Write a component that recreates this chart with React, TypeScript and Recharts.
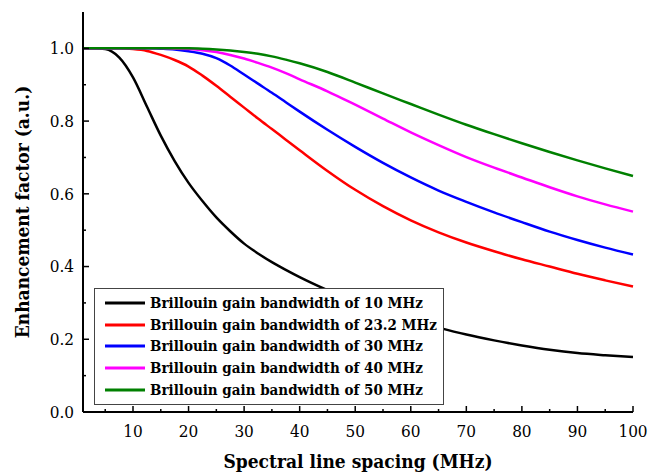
import { LineChart, Line, XAxis, YAxis, Legend } from 'recharts';

// spectral line spacing (MHz)
const spacing = [1, 3, 5, 7.5, 10, 12.5, 15, 17.5, 20, 22.5, 25, 27.5, 30, 32.5, 35, 37.5, 40, 45, 50, 55, 60, 65, 70, 75, 80, 85, 90, 95, 100];

// enhancement factor for each Brillouin gain bandwidth
const bw10 = [1, 1, 0.998, 0.975, 0.92, 0.84, 0.76, 0.69, 0.63, 0.58, 0.535, 0.497, 0.463, 0.436, 0.412, 0.391, 0.371, 0.335, 0.302, 0.275, 0.253, 0.232, 0.213, 0.197, 0.183, 0.171, 0.162, 0.156, 0.151];
const bw23 = [1, 1, 1, 1, 0.998, 0.993, 0.982, 0.968, 0.95, 0.925, 0.897, 0.867, 0.837, 0.807, 0.778, 0.749, 0.72, 0.663, 0.611, 0.566, 0.527, 0.494, 0.466, 0.442, 0.42, 0.4, 0.38, 0.362, 0.345];
const bw30 = [1, 1, 1, 1, 1, 1, 0.999, 0.997, 0.992, 0.985, 0.973, 0.953, 0.928, 0.903, 0.878, 0.852, 0.826, 0.776, 0.729, 0.685, 0.645, 0.609, 0.578, 0.549, 0.522, 0.496, 0.473, 0.452, 0.433];
const bw40 = [1, 1, 1, 1, 1, 1, 1, 0.999, 0.998, 0.995, 0.99, 0.982, 0.972, 0.96, 0.947, 0.932, 0.915, 0.882, 0.845, 0.807, 0.769, 0.734, 0.701, 0.672, 0.645, 0.618, 0.593, 0.571, 0.551];
const bw50 = [1, 1, 1, 1, 1, 1, 1, 1, 1, 0.999, 0.997, 0.994, 0.99, 0.985, 0.978, 0.969, 0.959, 0.935, 0.906, 0.876, 0.847, 0.818, 0.79, 0.764, 0.739, 0.715, 0.692, 0.67, 0.649];

const xTicks = [5, 10, 15, 20, 25, 30, 35, 40, 45, 50, 55, 60, 65, 70, 75, 80, 85, 90, 95, 100];
const yTicks = [0, 0.1, 0.2, 0.3, 0.4, 0.5, 0.6, 0.7, 0.8, 0.9, 1.0];

const series = [
    { key: 'bw10', name: 'Brillouin gain bandwidth of 10 MHz', color: '#000000' },
    { key: 'bw23', name: 'Brillouin gain bandwidth of 23.2 MHz', color: '#ff0000' },
    { key: 'bw30', name: 'Brillouin gain bandwidth of 30 MHz', color: '#0000ff' },
    { key: 'bw40', name: 'Brillouin gain bandwidth of 40 MHz', color: '#ff00ff' },
    { key: 'bw50', name: 'Brillouin gain bandwidth of 50 MHz', color: '#008000' },
];

const data = spacing.map((x, i) => ({
    x,
    bw10: bw10[i],
    bw23: bw23[i],
    bw30: bw30[i],
    bw40: bw40[i],
    bw50: bw50[i],
}));

const FONT = '"DejaVu Serif Condensed", "DejaVu Serif", serif';

const XTick = (props: any) => {
    const { x, y, payload } = props;
    const major = payload.value % 10 === 0;
    return (
        <g>
            <line x1={x} x2={x} y1={y} y2={y - (major ? 6 : 3)} stroke="#000" strokeWidth={1.5} />
            {major && (
                <text x={x} y={y + 25} textAnchor="middle" fontFamily={FONT} fontSize={17} fill="#000">
                    {payload.value}
                </text>
            )}
        </g>
    );
};

const YTick = (props: any) => {
    const { x, y, payload } = props;
    const major = Math.round(payload.value * 10) % 2 === 0;
    return (
        <g>
            <line x1={x} x2={x + (major ? 6 : 3)} y1={y} y2={y} stroke="#000" strokeWidth={1.5} />
            {major && (
                <text x={x - 9} y={y} dy="0.35em" textAnchor="end" fontFamily={FONT} fontSize={17} fill="#000">
                    {payload.value.toFixed(1)}
                </text>
            )}
        </g>
    );
};

const LegendBox = ({ payload }: any) => (
    <div
        style={{
            border: '1px solid #444',
            background: '#fff',
            padding: '3px 4px 3px 10px',
            width: 334,
            fontFamily: FONT,
            fontWeight: 'bold',
            fontSize: 15,
        }}
    >
        {(payload || []).map((entry: any) => (
            <div key={entry.value} style={{ display: 'flex', alignItems: 'center', height: 21.8 }}>
                <svg width={40} height={4} style={{ marginRight: 5, flexShrink: 0 }}>
                    <line x1={0} x2={40} y1={2} y2={2} stroke={entry.color} strokeWidth={3} />
                </svg>
                <span style={{ color: '#000', whiteSpace: 'nowrap' }}>{entry.value}</span>
            </div>
        ))}
    </div>
);

export default function App() {
    return (
        <div style={{ position: 'absolute', left: 0, top: 0, width: 648, height: 473, background: '#fff' }}>
            <LineChart width={648} height={473} data={data} margin={{ top: 12, right: 15, left: 0, bottom: 0 }}>
                <XAxis
                    dataKey="x"
                    type="number"
                    domain={[1, 100]}
                    ticks={xTicks}
                    interval={0}
                    tickSize={0}
                    tickMargin={0}
                    tick={<XTick />}
                    height={61}
                    axisLine={{ stroke: '#000', strokeWidth: 2 }}
                    tickLine={false}
                    label={({ viewBox }: any) => (
                        <text
                            x={viewBox.x + viewBox.width / 2}
                            y={viewBox.y + 56}
                            textAnchor="middle"
                            fontFamily={FONT}
                            fontWeight="bold"
                            fontSize={19}
                            fill="#000"
                        >
                            Spectral line spacing (MHz)
                        </text>
                    )}
                />
                <XAxis xAxisId="top" orientation="top" type="number" domain={[1, 100]} height={0} tick={false} tickLine={false} axisLine={{ stroke: '#000', strokeWidth: 2 }} />
                <YAxis
                    type="number"
                    domain={[0, 1.1]}
                    ticks={yTicks}
                    interval={0}
                    tickSize={0}
                    tickMargin={0}
                    tick={<YTick />}
                    width={83}
                    axisLine={{ stroke: '#000', strokeWidth: 2 }}
                    tickLine={false}
                    label={({ viewBox }: any) => {
                        const cx = viewBox.x + 22;
                        const cy = viewBox.y + viewBox.height / 2;
                        return (
                            <text
                                x={cx}
                                y={cy}
                                dy="0.35em"
                                transform={`rotate(-90 ${cx} ${cy})`}
                                textAnchor="middle"
                                fontFamily={FONT}
                                fontWeight="bold"
                                fontSize={19}
                                fill="#000"
                            >
                                Enhancement factor (a.u.)
                            </text>
                        );
                    }}
                />
                <YAxis yAxisId="right" orientation="right" type="number" domain={[0, 1.1]} width={0} tick={false} tickLine={false} axisLine={{ stroke: '#000', strokeWidth: 2 }} />
                {series.map((s) => (
                    <Line
                        key={s.key}
                        type="monotone"
                        dataKey={s.key}
                        name={s.name}
                        stroke={s.color}
                        strokeWidth={2.5}
                        dot={false}
                        isAnimationActive={false}
                    />
                ))}
                <Legend
                    layout="vertical"
                    align="center"
                    verticalAlign="middle"
                    content={<LegendBox />}
                    wrapperStyle={{ left: 94, top: 288, width: 349 }}
                />
            </LineChart>
        </div>
    );
}
